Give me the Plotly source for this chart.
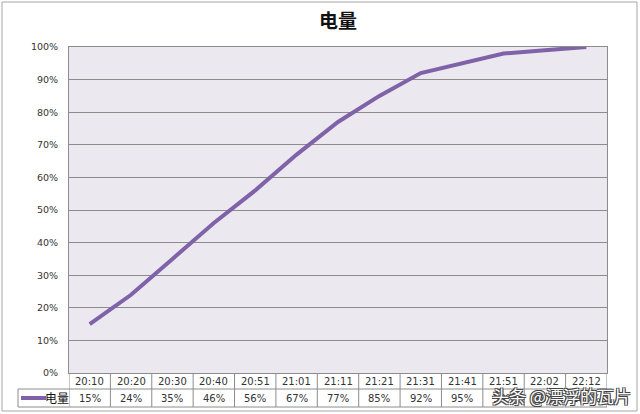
import plotly.graph_objects as go

times = ["20:10", "20:20", "20:30", "20:40", "20:51", "21:01", "21:11",
         "21:21", "21:31", "21:41", "21:51", "22:02", "22:12"]
charge = [15, 24, 35, 46, 56, 67, 77, 85, 92, 95, 98, 99, 100]
series_name = "电量"
y_ticks = [0, 10, 20, 30, 40, 50, 60, 70, 80, 90, 100]

LINE = "#7f62a8"
GRID = "#8c8c8c"
TXT = "#333333"
FONT = "DejaVu Sans"

W, H = 640, 414
ml, mr, mt, mb = 69, 33, 47, 41
ph = H - mt - mb
pw = W - ml - mr

def py(px):  # pixel y -> paper y
    return (H - mb - px) / ph

def pxx(px):  # pixel x -> paper x
    return (px - ml) / pw

fig = go.Figure()
fig.add_trace(go.Scatter(x=list(range(len(times))), y=[v / 100 for v in charge],
                         mode="lines", line=dict(color=LINE, width=4),
                         name=series_name, showlegend=False, hoverinfo="skip"))

shapes = []
annotations = []
y_top, y_mid, y_bot = py(373), py(389), py(407)
for yy in (y_mid, y_bot):
    shapes.append(dict(type="line", xref="x", yref="paper", x0=-0.5, x1=len(times) - 0.5,
                       y0=yy, y1=yy, line=dict(color=GRID, width=1)))
shapes.append(dict(type="line", xref="paper", yref="paper", x0=pxx(18), x1=0,
                   y0=y_mid, y1=y_mid, line=dict(color=GRID, width=1)))
shapes.append(dict(type="line", xref="paper", yref="paper", x0=pxx(18), x1=0,
                   y0=y_bot, y1=y_bot, line=dict(color=GRID, width=1)))
shapes.append(dict(type="line", xref="paper", yref="paper", x0=pxx(18), x1=pxx(18),
                   y0=y_mid, y1=y_bot, line=dict(color=GRID, width=1)))
shapes.append(dict(type="line", xref="paper", yref="paper", x0=pxx(21), x1=pxx(46),
                   y0=py(398), y1=py(398), line=dict(color=LINE, width=4)))
annotations.append(dict(xref="paper", yref="paper", x=pxx(57), y=py(397), text=series_name,
                        xanchor="center", yanchor="middle",
                        showarrow=False, font=dict(family="Noto Sans CJK SC", size=12, color="#111")))
for i in range(len(times) + 1):
    shapes.append(dict(type="line", xref="x", yref="paper", x0=i - 0.5, x1=i - 0.5,
                       y0=y_bot, y1=y_top, line=dict(color=GRID, width=1)))
for i, (t, v) in enumerate(zip(times, charge)):
    annotations.append(dict(xref="x", yref="paper", x=i, y=py(381), text=t, showarrow=False,
                            xanchor="center", yanchor="middle",
                            font=dict(family=FONT, size=10, color=TXT)))
    annotations.append(dict(xref="x", yref="paper", x=i, y=py(398), text=f"{v}%", showarrow=False,
                            xanchor="center", yanchor="middle",
                            font=dict(family=FONT, size=10, color=TXT)))
annotations.append(dict(xref="paper", yref="paper", x=pxx(561), y=py(395), text="头条 @漂浮的瓦片",
                        xanchor="center", yanchor="middle", showarrow=False,
                        font=dict(family="Noto Sans CJK SC", size=17, color="white",
                                  shadow="-1px -1px 0 #444, 1px -1px 0 #444, -1px 1px 0 #444, 1px 1px 0 #444")))
shapes.append(dict(type="rect", xref="paper", yref="paper", x0=pxx(2), x1=pxx(637),
                   y0=py(411), y1=py(2), line=dict(color="#a6a6a6", width=1), layer="below"))

fig.update_layout(
    width=W, height=H,
    margin=dict(l=ml, r=mr, t=mt, b=mb),
    paper_bgcolor="white", plot_bgcolor="#ebe8f0",
    title=dict(text="<b>电量</b>", x=0.5, xref="paper", xanchor="center", y=1 - 21 / H, yanchor="middle",
               font=dict(family="Noto Sans CJK SC", size=19, color="#111")),
    xaxis=dict(range=[-0.5, len(times) - 0.5], showticklabels=False, showgrid=False,
               zeroline=False, showline=True, linecolor=GRID, mirror=True, ticks=""),
    yaxis=dict(range=[0, 1], tickvals=[v / 100 for v in y_ticks],
               ticktext=[f"{v}%" for v in y_ticks], showgrid=True, gridcolor=GRID, gridwidth=1,
               zeroline=False, showline=True, linecolor=GRID, mirror=True, ticks="",
               ticklabelstandoff=8,
               tickfont=dict(family=FONT, size=9.5, color=TXT)),
    shapes=shapes, annotations=annotations,
)
fig.write_html("out.html", config={"displayModeBar": False},
               post_script="document.body.style.margin='0';document.body.style.overflow='hidden';")
